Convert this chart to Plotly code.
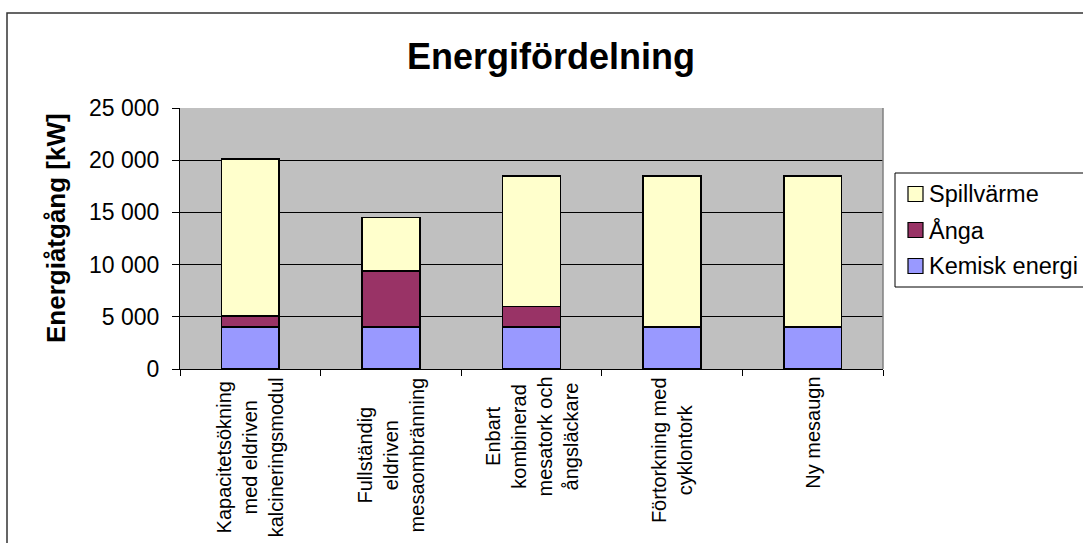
"""Energifördelning - stacked bars rebuilt with Plotly."""
import plotly.graph_objects as go

# --- data
categories = [
    "Kapacitetsökning<br>med eldriven<br>kalcineringsmodul",
    "Fullständig<br>eldriven<br>mesaombränning",
    "Enbart<br>kombinerad<br>mesatork och<br>ångsläckare",
    "Förtorkning med<br>cyklontork",
    "Ny mesaugn",
]
kemisk_energi = [4000, 4000, 4000, 4000, 4000]
anga = [1100, 5400, 2000, 0, 0]
spillvarme = [15000, 5100, 12500, 14500, 14500]

series_names = ["Kemisk energi", "Ånga", "Spillvärme"]
y_ticks = [0, 5000, 10000, 15000, 20000, 25000]

title_text = "Energifördelning"
y_title_text = "Energiåtgång [kW]"

# --- look
W, H = 1083, 543
L, R, T, B = 180, 200, 108, 174
FONT = "Arial, 'Liberation Sans', sans-serif"
colors = ["#9999FF", "#993366", "#FFFFCC"]


def px_x(px):
    return (px - L) / (W - L - R)


def px_y(py):
    return (H - B - py) / (H - T - B)


fig = go.Figure()

for name, vals, color in zip(series_names, [kemisk_energi, anga, spillvarme], colors):
    fig.add_trace(
        go.Bar(
            x=categories,
            y=vals,
            name=name,
            marker=dict(color=color, line=dict(color="black", width=1.6)),
            width=0.41,
            showlegend=False,
        )
    )

# x labels as centred rotated annotations
for cat in categories:
    fig.add_annotation(
        x=cat, xref="x", y=0, yref="paper",
        text=cat, textangle=-90, showarrow=False,
        yanchor="top", xanchor="center", align="center", yshift=-6,
        font=dict(family=FONT, size=20, color="black"),
    )

# title + y title
fig.add_annotation(
    x=px_x(551), y=px_y(57), xref="paper", yref="paper",
    text=f"<b>{title_text}</b>", showarrow=False,
    xanchor="center", yanchor="middle",
    font=dict(family=FONT, size=36, color="black"),
)
fig.add_annotation(
    x=px_x(56), y=px_y(228), xref="paper", yref="paper",
    text=f"<b>{y_title_text}</b>", showarrow=False, textangle=-90,
    xanchor="center", yanchor="middle",
    font=dict(family=FONT, size=26, color="black"),
)

# manual legend (top entry = last series)
fig.add_shape(
    type="rect", xref="paper", yref="paper",
    x0=px_x(895), x1=px_x(1100), y0=px_y(287), y1=px_y(173),
    line=dict(color="black", width=1), fillcolor="white", layer="above",
)
for i, (name, color) in enumerate(zip(series_names[::-1], colors[::-1])):
    cy = 194 + i * 36
    fig.add_shape(
        type="rect", xref="paper", yref="paper",
        x0=px_x(908), x1=px_x(923), y0=px_y(cy + 7.5), y1=px_y(cy - 7.5),
        line=dict(color="black", width=1.2), fillcolor=color, layer="above",
    )
    fig.add_annotation(
        x=px_x(927), y=px_y(cy), xref="paper", yref="paper",
        text=name, showarrow=False, xanchor="left", yanchor="middle",
        font=dict(family=FONT, size=23.5, color="black"),
    )

# plot area right edge and outer chart border
fig.add_shape(
    type="line", xref="paper", yref="paper", x0=1, x1=1, y0=0, y1=1,
    line=dict(color="#808080", width=1.5), layer="above",
)
fig.add_shape(
    type="rect", xref="paper", yref="paper",
    x0=px_x(7), x1=px_x(1100), y0=px_y(560), y1=px_y(13),
    line=dict(color="#333333", width=1.5), layer="above",
)

fig.update_layout(
    width=W, height=H,
    barmode="stack",
    separators=", ",
    paper_bgcolor="white",
    plot_bgcolor="#C0C0C0",
    margin=dict(l=L, r=R, t=T, b=B, autoexpand=False),
    font=dict(family=FONT, color="black"),
    xaxis=dict(
        type="category", showticklabels=False, showgrid=False,
        ticks="outside", tickson="boundaries", ticklen=6, tickcolor="black",
        showline=True, linecolor="black", linewidth=1.2,
    ),
    yaxis=dict(
        range=[0, 25000], tickvals=y_ticks, tickformat=",d",
        ticks="outside", ticklen=7, tickcolor="black",
        ticklabelstandoff=8,
        tickfont=dict(family=FONT, size=23, color="black"),
        showgrid=True, gridcolor="black", gridwidth=1,
        showline=True, linecolor="black", linewidth=1.2,
        zeroline=False,
    ),
)

# the page body has an 8px default margin; drop it so the figure sits at 0,0
fig.write_html(
    "out.html",
    config={"displayModeBar": False},
    post_script="document.body.style.margin='0';",
)
